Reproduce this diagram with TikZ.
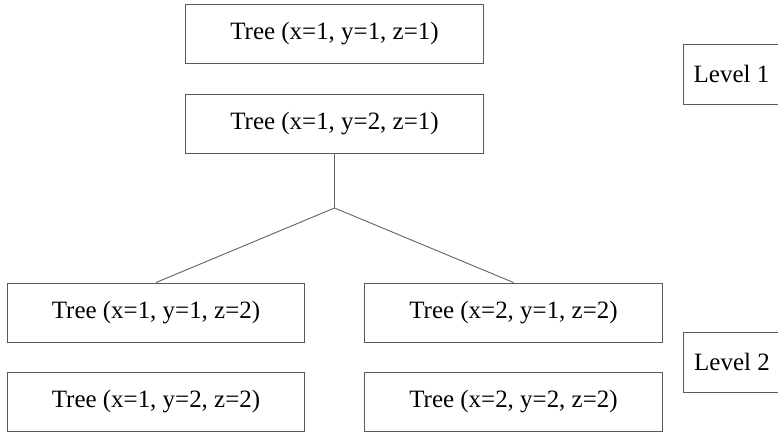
\documentclass[tikz,border=0pt]{standalone}
\usepackage{fontspec}
\setmainfont{Liberation Serif}

\tikzset{
	tree/.style={draw=black!65, line width=0.8pt, minimum width=8.93cm, minimum height=1.77cm, font=\fontsize{21.3}{25}\selectfont},
	level/.style={draw=black!65, line width=0.8pt, minimum width=2.91cm, minimum height=1.8cm, font=\fontsize{21.3}{25}\selectfont},
	branch/.style={black!60, line width=0.8pt}
}

\begin{document}
\begin{tikzpicture}
\useasboundingbox (0,0) rectangle (23.34,12.96);

\node (t1) at (10.035,11.955) [tree] {Tree (x=1, y=1, z=1)};
\node (t2) at (10.035,9.255) [tree] {Tree (x=1, y=2, z=1)};

\node (b11) at (4.68,3.585) [tree] {Tree (x=1, y=1, z=2)};
\node (b12) at (4.68,0.915) [tree] {Tree (x=1, y=2, z=2)};
\node (b21) at (15.405,3.585) [tree] {Tree (x=2, y=1, z=2)};
\node (b22) at (15.405,0.915) [tree] {Tree (x=2, y=2, z=2)};

\node (lv1) at (21.945,10.74) [level] {Level 1};
\node (lv2) at (21.96,2.1) [level] {Level 2};

\coordinate (fork) at (10.035,6.72);

\draw [branch] (t2.south) -- (fork);
\draw [branch] (fork) -- (b11.north);
\draw [branch] (fork) -- (b21.north);
\end{tikzpicture}
\end{document}
